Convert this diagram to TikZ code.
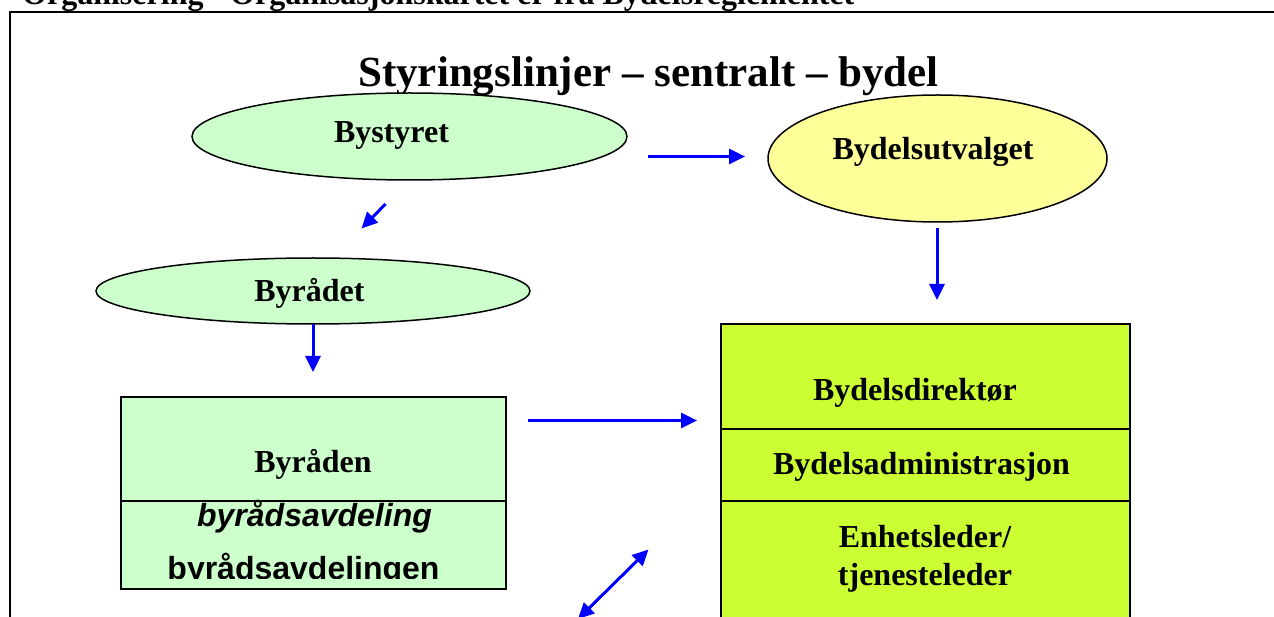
\documentclass[tikz,border=0pt]{standalone}
\usepackage{fontspec}
\setmainfont{Liberation Serif}
\newfontfamily\arialfont{Liberation Sans}
\usetikzlibrary{arrows.meta,shapes.geometric}
\definecolor{palegreen}{HTML}{CCFFCC}
\definecolor{paleyellow}{HTML}{FFFF99}
\definecolor{limegreen}{HTML}{CCFF33}
\definecolor{flowblue}{HTML}{0000FF}
\tikzset{
  oval/.style={ellipse, draw=black, line width=1.5pt, inner sep=0pt, outer sep=0pt},
  lbl/.style={anchor=base, inner sep=0pt, font=\fontsize{32}{38}\selectfont\bfseries},
  ttl/.style={anchor=base, inner sep=0pt, font=\fontsize{43}{50}\selectfont\bfseries},
  sanslbl/.style={anchor=base, inner sep=0pt, font=\arialfont\fontsize{32}{38}\selectfont\bfseries},
  panel/.style={rectangle, draw=black, line width=2pt, inner sep=0pt, outer sep=0pt, anchor=north west},
  flow/.style={draw=flowblue, line width=3pt, -{Triangle[length=16pt,width=15pt]}},
  flowboth/.style={draw=flowblue, line width=3pt, {Triangle[length=16pt,width=15pt]}-{Triangle[length=16pt,width=15pt]}},
}
\begin{document}
\begin{tikzpicture}[x=1pt,y=-1pt]
\useasboundingbox (0,0) rectangle (1274,617);
\clip (0,0) rectangle (1274,617);
\fill[white] (0,0) rectangle (1274,617);

% page heading and frame
\node[lbl, anchor=base west] (heading) at (22,5) {Organisering - Organisasjonskartet er fra Bydelsreglementet};
\draw[line width=2pt] (1290,12) -| (9.5,640);

% title
\node[ttl] (title) at (648.5,87) {Styringslinjer – sentralt – bydel};

% ellipses
\node[oval, fill=palegreen, minimum width=435pt, minimum height=87pt] (bystyret) at (409.5,136.5) {};
\node[lbl] (bystyretlbl) at (391.5,143) {Bystyret};
\node[oval, fill=paleyellow, minimum width=339pt, minimum height=127pt] (utvalg) at (937.5,158.5) {};
\node[lbl] (utvalglbl) at (933,160) {Bydelsutvalget};
\node[oval, fill=palegreen, minimum width=434pt, minimum height=66pt] (byraadet) at (313,291) {};
\node[lbl] (byraadetlbl) at (309.5,301.5) {Byrådet};

% left box: byråden / byrådsavdeling
\node[panel, fill=palegreen, minimum width=385pt, minimum height=104pt] (byraaden) at (121,397) {};
\node[panel, fill=palegreen, minimum width=385pt, minimum height=88.3pt] (avdeling) at (121,501) {};
\node[lbl] (byraadenlbl) at (313,472.5) {Byråden};
\node[sanslbl, font=\arialfont\fontsize{32}{38}\selectfont\bfseries\itshape] (avdlbl) at (314.5,526) {byrådsavdeling};
\begin{scope}
  \clip (121,540) rectangle (506,578.5);
  \node[sanslbl] (avdlbl2) at (303.5,579) {byrådsavdelingen};
\end{scope}

% right box: bydel
\node[panel, fill=limegreen, minimum width=409pt, minimum height=104pt] (direktor) at (721,324.5) {};
\node[panel, fill=limegreen, minimum width=409pt, minimum height=72.5pt] (admin) at (721,428.5) {};
\node[panel, fill=limegreen, minimum width=409pt, minimum height=160pt] (enhet) at (721,501) {};
\node[lbl] (direktorlbl) at (915,400.5) {Bydelsdirektør};
\node[lbl] (adminlbl) at (921.5,474) {Bydelsadministrasjon};
\node[lbl] (enhetlbl) at (925,547) {Enhetsleder/};
\node[lbl] (tjenestelbl) at (925,585) {tjenesteleder};

% steering lines
\coordinate (aS) at (648,156.5);  \coordinate (aE) at (745,156.5);
\coordinate (bS) at (385.5,204);  \coordinate (bE) at (361.5,228.5);
\coordinate (cE) at (313,372);
\coordinate (dS) at (528,420.5);  \coordinate (dE) at (697,420.5);
\coordinate (eS) at (937,228);    \coordinate (eE) at (937,300);
\coordinate (fS) at (648.5,549.5); \coordinate (fE) at (578,619);
\draw[flow] (aS) -- (aE);
\draw[flow] (bS) -- (bE);
\draw[flow] (byraadet.south) -- (cE);
\draw[flow] (dS) -- (dE);
\draw[flow] (eS) -- (eE);
\draw[flowboth] (fS) -- (fE);
\end{tikzpicture}
\end{document}
